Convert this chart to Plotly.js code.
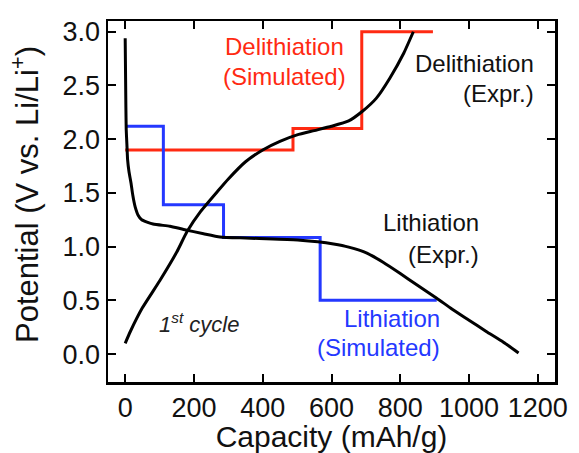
<!DOCTYPE html>
<html>
<head>
<meta charset="utf-8">
<script src="https://cdn.plot.ly/plotly-3.0.1.min.js"></script>
<style>
  html, body { margin: 0; padding: 0; background: #fff; }
  #chart { width: 579px; height: 453px; }
</style>
</head>
<body>
<div id="chart"></div>
<script>
// First-cycle voltage profiles: experiment vs. simulated plateaus
const lithExpCap = [0, 2, 3, 5, 7, 11, 17, 22, 29, 38, 48, 81, 130, 170, 228, 276, 350, 430, 509, 560, 606, 650, 703, 750, 800, 850, 906, 950, 1000, 1050, 1100, 1144];
const lithExpV   = [2.94, 2.3, 2.09, 1.95, 1.81, 1.70, 1.59, 1.48, 1.37, 1.29, 1.25, 1.21, 1.19, 1.16, 1.12, 1.09, 1.08, 1.07, 1.06, 1.045, 1.024, 0.995, 0.94, 0.855, 0.75, 0.64, 0.52, 0.42, 0.315, 0.21, 0.11, 0.01];

const delithExpCap = [0, 15, 50, 100, 150, 180, 220, 270, 300, 350, 400, 450, 500, 550, 600, 650, 690, 730, 770, 810, 838];
const delithExpV   = [0.10, 0.21, 0.43, 0.68, 0.95, 1.14, 1.33, 1.52, 1.63, 1.79, 1.90, 1.98, 2.04, 2.08, 2.12, 2.17, 2.26, 2.38, 2.57, 2.80, 3.00];

const delithSimCap = [0, 488, 688, 895];
const delithSimV   = [1.90, 2.10, 3.00, 3.00];

const lithSimCap = [0, 111, 286, 567, 906];
const lithSimV   = [2.12, 1.39, 1.085, 0.50, 0.50];

const xTicks = [0, 200, 400, 600, 800, 1000, 1200];
const yTicks = [0.0, 0.5, 1.0, 1.5, 2.0, 2.5, 3.0];

const RED = '#ff2a12';
const BLUE = '#2438ff';
const INK = '#111';
const FONT = 'Liberation Sans, Arial, sans-serif';

const traces = [
  { x: delithSimCap, y: delithSimV, mode: 'lines', line: { color: RED, width: 3, shape: 'hv' } },
  { x: lithSimCap, y: lithSimV, mode: 'lines', line: { color: BLUE, width: 3, shape: 'hv' } },
  { x: lithExpCap, y: lithExpV, mode: 'lines', line: { color: '#000', width: 3, shape: 'spline', smoothing: 0.5 } },
  { x: delithExpCap, y: delithExpV, mode: 'lines', line: { color: '#000', width: 3, shape: 'spline', smoothing: 0.5 } }
];

// plot area spans 108..555 px horizontally and 21..382 px vertically
function px(x) { return (x - 108) / 447; }
function py(y) { return (382 - y) / 361; }

function label(text, x, y, color, anchor, size, extra) {
  return Object.assign({
    text: text, xref: 'paper', yref: 'paper', x: px(x), y: py(y),
    xanchor: anchor, yanchor: 'middle', showarrow: false,
    font: { family: FONT, size: size || 24, color: color }
  }, extra || {});
}

const layout = {
  width: 579, height: 453,
  margin: { l: 108, r: 24, t: 21, b: 71 },
  paper_bgcolor: '#fff', plot_bgcolor: '#fff',
  showlegend: false,
  font: { family: FONT, color: INK },
  xaxis: {
    range: [-50, 1250], tickvals: xTicks, ticktext: xTicks.map(String),
    ticks: 'inside', ticklen: 8, tickwidth: 2, tickcolor: '#000',
    showline: true, linecolor: '#000', linewidth: 2.5, mirror: 'ticks',
    showgrid: false, zeroline: false,
    tickfont: { family: FONT, size: 27, color: INK },
    title: { text: 'Capacity (mAh/g)', font: { family: FONT, size: 30, color: INK }, standoff: 6 }
  },
  yaxis: {
    range: [-0.26, 3.10], tickvals: yTicks, ticktext: yTicks.map(v => v.toFixed(1)),
    ticks: 'inside', ticklen: 8, tickwidth: 2, tickcolor: '#000',
    showline: true, linecolor: '#000', linewidth: 2.5, mirror: 'ticks',
    showgrid: false, zeroline: false,
    tickfont: { family: FONT, size: 27, color: INK }
  },
  annotations: [
    label('Potential (V vs. Li/Li<sup>+</sup>)', 25, 195, INK, 'center', 31, { textangle: -90 }),
    label('Delithiation', 284, 47, RED, 'center'),
    label('(Simulated)', 284, 76, RED, 'center'),
    label('Delithiation', 536, 63, INK, 'right'),
    label('(Expr.)', 536, 94, INK, 'right'),
    label('Lithiation', 481, 222, INK, 'right'),
    label('(Expr.)', 481, 254, INK, 'right'),
    label('Lithiation', 442, 318, BLUE, 'right'),
    label('(Simulated)', 442, 347, BLUE, 'right'),
    label('<i>1<sup>st</sup> cycle</i>', 157, 323, '#222', 'left', 22)
  ]
};

Plotly.newPlot('chart', traces, layout, { staticPlot: true, displayModeBar: false });
</script>
</body>
</html>
